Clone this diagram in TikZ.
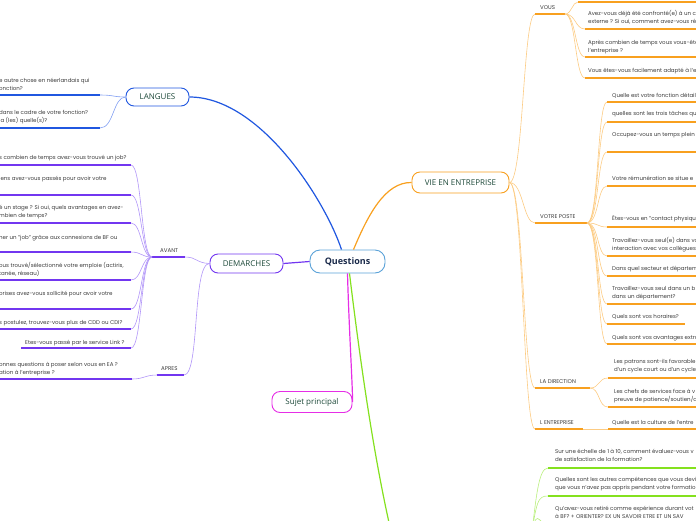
\documentclass[tikz,border=0pt]{standalone}
\usepackage{fontspec}
\setmainfont{Poppins}
\newfontfamily\topicfont{Open Sans}
\usetikzlibrary{positioning}

\definecolor{qblue}{HTML}{5AA2D8}
\definecolor{qtext}{HTML}{1B2B4B}
\definecolor{toptext}{HTML}{1E4A3A}
\definecolor{leaftext}{HTML}{3C3C3C}
\definecolor{langblue}{HTML}{2057E0}
\definecolor{langlight}{HTML}{7F9DF2}
\definecolor{demviolet}{HTML}{7236F0}
\definecolor{demlight}{HTML}{B195F8}
\definecolor{vieorange}{HTML}{F8A01F}
\definecolor{vielight}{HTML}{FCCB82}
\definecolor{sujmagenta}{HTML}{E62EE6}
\definecolor{formgreen}{HTML}{84E11E}
\definecolor{formlight}{HTML}{B9EF7C}

\tikzset{
  topic/.style={draw, fill=white, line width=0.9pt, rounded corners=8pt, inner sep=0pt,
    text=toptext, font=\topicfont\fontsize{8}{9}\selectfont},
  leaf/.style={anchor=base west, inner sep=0pt, align=left, text=leaftext,
    font=\fontsize{5.5}{8}\selectfont},
  sublabel/.style={anchor=base west, inner sep=0pt, text=leaftext, font=\fontsize{5.5}{6}\selectfont},
  uline/.style={line width=1.3pt},
  twig/.style={line width=0.6pt},
  trunk/.style={line width=1.2pt},
}

\begin{document}
\begin{tikzpicture}[x=1pt,y=-1pt]
  \useasboundingbox (0,0) rectangle (696,520);
  \clip (0,0) rectangle (696,520);

  % main topics
  \node[topic, draw=qblue, text=qtext, rounded corners=10pt, minimum width=75pt, minimum height=23pt,
    font=\topicfont\bfseries\fontsize{9}{10}\selectfont] (questions) at (347.5,261.5) {Questions};
  \node[topic, draw=vieorange, minimum width=97pt, minimum height=21pt] (vie) at (460.5,182.5) {VIE EN ENTREPRISE};
  \node[topic, draw=langblue, minimum width=63pt, minimum height=18pt] (langues) at (157.5,97) {LANGUES};
  \node[topic, draw=demviolet, minimum width=73pt, minimum height=19pt] (demarches) at (246.5,263.5) {DEMARCHES};
  \node[topic, draw=sujmagenta, minimum width=80pt, minimum height=21pt] (sujet) at (312,402) {Sujet principal};

  \draw[trunk, langblue] ([xshift=-6pt]questions.north) .. controls (325,200) and (260,97) .. (langues.east);
  \draw[trunk, vieorange] ([xshift=6pt]questions.north) .. controls (368,215) and (385,182) .. (vie.west);
  \draw[trunk, demviolet] (questions.west) -- (demarches.east);
  \draw[trunk, sujmagenta] (questions.south) .. controls (349,330) and (353,392) .. (sujet.east);
  \coordinate (formation) at (393,540);
  \draw[trunk, formgreen] ([xshift=2pt]questions.south) .. controls (360,360) and (374,460) .. (formation);

  % VIE EN ENTREPRISE
  \node[sublabel] (vous) at (540,9) {VOUS};
  \coordinate (vousL) at (535,14);
  \coordinate (vousR) at (565,14);
  \node[sublabel] (poste) at (540,218) {VOTRE POSTE};
  \coordinate (posteL) at (535,223);
  \coordinate (posteR) at (587,223);
  \node[sublabel] (direction) at (540,383) {LA DIRECTION};
  \coordinate (dirL) at (535,388);
  \coordinate (dirR) at (590,388);
  \node[sublabel] (entreprise) at (540,424) {L ENTREPRISE};
  \coordinate (entL) at (535,429);
  \coordinate (entR) at (583,429);
  \foreach \c in {vousL, posteL, dirL, entL}
    \draw[twig, vielight] (vie.east) .. controls +(14,0) and +(-12,0) .. (\c);
  \draw[uline, vieorange] (vousL) -- (vousR);
  \draw[uline, vieorange] (posteL) -- (posteR);
  \draw[uline, vieorange] (dirL) -- (dirR);
  \draw[uline, vieorange] (entL) -- (entR);

  \coordinate (vous-ul-1) at (578,2);
  \draw[twig, vielight] (vousR) .. controls (572,14) and (572,2) .. (vous-ul-1);
  \draw[uline, vieorange] (vous-ul-1) -- (696,2);
  \foreach \i/\b/\u/\t in {2/23/29/{Avez-vous déjà été confronté(e) à un c\\externe ? Si oui, comment avez-vous ré},
      3/52/57/{Après combien de temps vous vous-ête\\l'entreprise ?},
      4/72/78/{Vous êtes-vous facilement adapté à l'e}} {
    \node[leaf] (vous-\i) at (588,\b) {\t};
    \coordinate (vous-ul-\i) at (585,\u);
    \draw[twig, vielight] (vousR) .. controls (576,14) and (575,\u) .. (vous-ul-\i);
    \draw[uline, vieorange] (vous-ul-\i) -- (696,\u);
  }

  \foreach \i/\b/\u/\e/\t in {1/97/102/696/{Quelle est votre fonction détail},
      2/115/122/696/{quelles sont les trois tâches qu},
      3/136/152/696/{Occupez-vous un temps plein o},
      4/180/186/696/{Votre rémunération se situe e},
      5/220/227/696/{Êtes-vous en "contact physique},
      6/250/256/696/{Travaillez-vous seul(e) dans vo\\interaction avec vos collègues},
      7/270/276/696/{Dans quel secteur et départem},
      8/298/304/696/{Travaillez-vous seul dans un b\\dans un département?},
      9/318/324/685/{Quels sont vos horaires?},
      10/339/344/696/{Quels sont vos avantages extra}} {
    \node[leaf] (poste-\i) at (612,\b) {\t};
    \coordinate (poste-ul-\i) at (607,\u);
    \draw[twig, vielight] (posteR) .. controls (599,223) and (597,\u) .. (poste-ul-\i);
    \draw[uline, vieorange] (poste-ul-\i) -- (\e,\u);
  }

  \foreach \i/\b/\u/\t in {1/371/378/{Les patrons sont-ils favorable\\d'un cycle court ou d'un cycle},
      2/401/407/{Les chefs de services face à v\\preuve de patience/soutien/a}} {
    \node[leaf] (dir-\i) at (614,\b) {\t};
    \coordinate (dir-ul-\i) at (608,\u);
    \draw[twig, vielight] (dirR) .. controls (600,388) and (598,\u) .. (dir-ul-\i);
    \draw[uline, vieorange] (dir-ul-\i) -- (696,\u);
  }

  \node[leaf] (ent-1) at (612,424) {Quelle est la culture de l'entre};
  \coordinate (ent-ul-1) at (608,429);
  \draw[twig, vielight] (entR) -- (ent-ul-1);
  \draw[uline, vieorange] (ent-ul-1) -- (696,429);

  % formation (green)
  \coordinate (formroot) at (530,548);
  \foreach \i/\b/\u/\t in {1/461/468/{Sur une échelle de 1 à 10, comment évaluez-vous v\\de satisfaction de la formation?},
      2/489/496/{Quelles sont les autres compétences que vous devi\\que vous n'avez pas appris pendant votre formatio},
      3/518/525/{Qu'avez-vous retiré comme expérience durant vot\\à BF? + ORIENTER? EX UN SAVOIR ETRE ET UN SAV}} {
    \node[leaf] (form-\i) at (555,\b) {\t};
    \coordinate (form-ul-\i) at (548,\u);
    \draw[twig, formlight] (formroot) .. controls (536,500) and (538,\u) .. (form-ul-\i);
    \draw[uline, formgreen] (form-ul-\i) -- (696,\u);
  }

  % LANGUES
  \foreach \i/\b/\u/\t in {1/90/95/{e autre chose en néerlandais qui\\onction?},
      2/122/128/{dans le cadre de votre fonction?\\la (les) quelle(s)?}} {
    \node[leaf] (lang-\i) at (-1,\b) {\t};
    \coordinate (lang-ul-\i) at (100,\u);
    \draw[twig, langlight] (langues.west) .. controls (113,97) and (114,\u) .. (lang-ul-\i);
    \draw[uline, langblue] (0,\u) -- (lang-ul-\i);
  }

  % DEMARCHES
  \node[sublabel] (avant) at (160,252) {AVANT};
  \coordinate (avantL) at (152,257);
  \coordinate (avantR) at (185,257);
  \node[sublabel] (apres) at (161,370) {APRES};
  \coordinate (apresL) at (157,375);
  \coordinate (apresR) at (184,375);
  \draw[twig, demlight] (demarches.west) .. controls (196,263) and (197,257) .. (avantR);
  \draw[twig, demlight] (demarches.west) .. controls (192,263) and (200,375) .. (apresR);
  \draw[uline, demviolet] (avantL) -- (avantR);
  \draw[uline, demviolet] (apresL) -- (apresR);

  \foreach \i/\x/\s/\b/\u/\t in {1/-1/0/159/165/{s combien de temps avez-vous trouvé un job?},
      2/-1/0/180/195/{iens avez-vous passés pour avoir votre},
      3/-1/0/217/223/{é un stage ? Si oui, quels avantages en avez-\\mbien de temps?},
      4/-1/0/239/252/{her un "job" grâce aux connexions de BF ou},
      5/-1/0/275/280/{ous trouvé/sélectionné votre emploie (actiris,\\tanée, réseau)},
      6/-1/0/295/309/{orises avez-vous sollicité pour avoir votre},
      7/-1/0/324/329/{s postulez, trouvez-vous plus de CDD ou CDI?},
      8/25/21/344/348/{Etes-vous passé par le service Link ?}} {
    \node[leaf] (avant-\i) at (\x,\b) {\t};
    \coordinate (avant-ul-\i) at (131,\u);
    \draw[twig, demlight] (avantL) .. controls (141,257) and (142,\u) .. (avant-ul-\i);
    \draw[uline, demviolet] (\s,\u) -- (avant-ul-\i);
  }

  \node[leaf] (apres-1) at (-1,374) {onnes questions à poser selon vous en EA ?\\ation à l'entreprise ?};
  \coordinate (apres-ul-1) at (132,379);
  \draw[twig, demlight] (apresL) .. controls (145,375) and (144,379) .. (apres-ul-1);
  \draw[uline, demviolet] (0,379) -- (apres-ul-1);
\end{tikzpicture}
\end{document}
